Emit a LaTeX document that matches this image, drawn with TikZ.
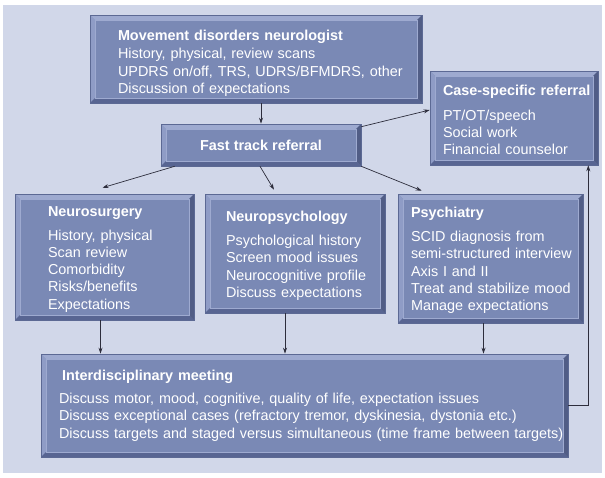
\documentclass[tikz,border=0pt]{standalone}
\usepackage{fontspec}
\setmainfont{Liberation Sans}
\usetikzlibrary{shapes,arrows.meta,positioning,calc}
\definecolor{panelbg}{RGB}{209,215,233}
\definecolor{boxface}{RGB}{122,137,181}
\definecolor{boxedge}{RGB}{92,105,148}
\definecolor{bevtop}{RGB}{158,170,208}
\definecolor{bevleft}{RGB}{143,156,198}
\definecolor{bevdark}{RGB}{88,101,146}
\definecolor{arrowgrey}{RGB}{45,45,60}

\begin{document}
\begin{tikzpicture}[x=1pt, y=-1pt,
    stage/.style={draw=boxedge, line width=0.6pt, fill=boxface, text=white, align=left,
      inner xsep=2pt, font=\fontsize{14.4}{17.3}\selectfont,
      path picture={
        \path (path picture bounding box.north west) coordinate (bnw)
              (path picture bounding box.south east) coordinate (bse);
        \fill[bevtop] (bnw) -- (bnw -| bse) -- ++(-5pt,-5pt) -- ([shift={(5pt,-5pt)}]bnw) -- cycle;
        \fill[bevleft] (bnw) -- ([shift={(5pt,-5pt)}]bnw) -- ([shift={(5pt,5pt)}]bnw |- bse) -- (bnw |- bse) -- cycle;
        \fill[bevdark] (bnw |- bse) -- (bse) -- ++(-5pt,5pt) -- ([shift={(5pt,5pt)}]bnw |- bse) -- cycle;
        \fill[bevdark!92!black] (bse) -- (bnw -| bse) -- ++(-5pt,-5pt) -- ([shift={(-5pt,5pt)}]bse) -- cycle;
        \draw[bevtop, line width=0.5pt] ([shift={(5pt,-5pt)}]bnw) rectangle ([shift={(-5pt,5pt)}]bse);
      }},
    % width, height, left inset of the text
    boxsize/.style n args={3}{minimum width=#1pt, text width=#1pt-4pt, minimum height=#2pt,
      execute at begin node={\leftskip=\dimexpr#3pt-2pt\relax
        \rightskip=-30pt plus 1fil\hyphenpenalty=10000 }},
    arr/.style={draw=arrowgrey, line width=0.7pt, -{Stealth[length=6pt,width=4pt]}}]

  \useasboundingbox (0,0) rectangle (605,477);
  \fill[panelbg] (3,5) rectangle (602,473);

  \node[stage, boxsize={332}{88}{28}] (neuro) at (256,59)
    {\rule{0pt}{18.5pt}\textbf{Movement disorders neurologist}\\[1.5pt]
     History, physical, review scans\\
     UPDRS on/off, TRS, UDRS/BFMDRS, other\\
     Discussion of expectations};
  \node[stage, align=center, minimum width=200pt, minimum height=42pt] (fast) at (261,145)
    {\textbf{Fast track referral}};
  \node[stage, boxsize={168}{94}{13}] (casespec) at (514,118)
    {\rule{0pt}{14.5pt}\textbf{Case-specific referral}\\[7pt]
     PT/OT/speech\\
     Social work\\
     Financial counselor};
  \node[stage, boxsize={179}{126}{33}] (nsurg) at (104.5,257)
    {\rule{0pt}{14.5pt}\textbf{Neurosurgery}\\[6.5pt]
     History, physical\\
     Scan review\\
     Comorbidity\\
     Risks/benefits\\
     Expectations};
  \node[stage, boxsize={180}{119}{21}] (npsych) at (295,253.5)
    {\rule{0pt}{14.5pt}\textbf{Neuropsychology}\\[7pt]
     Psychological history\\
     Screen mood issues\\
     Neurocognitive profile\\
     Discuss expectations};
  \node[stage, boxsize={185}{129}{13}] (psych) at (490.5,258.5)
    {\rule{0pt}{14.5pt}\textbf{Psychiatry}\\[6.5pt]
     SCID diagnosis from\\
     semi-structured interview\\
     Axis I and II\\
     Treat and stabilize mood\\
     Manage expectations};
  \node[stage, boxsize={527}{103}{18}] (meeting) at (304.5,405.5)
    {\hspace*{3pt}\textbf{Interdisciplinary meeting}\\[6pt]
     Discuss motor, mood, cognitive, quality of life, expectation issues\\
     Discuss exceptional cases (refractory tremor, dyskinesia, dystonia etc.)\\
     Discuss targets and staged versus simultaneous (time frame between targets)};

  \draw[arr] (fast.north |- neuro.south) -- (fast.north);
  \draw[arr] ([yshift=-3pt]fast.north east) -- ([yshift=8pt]casespec.west);
  \draw[arr] ([xshift=14pt]fast.south west) -- ([xshift=-2pt,yshift=6pt]nsurg.north);
  \draw[arr] ([xshift=-1pt]fast.south) -- ([xshift=-21pt,yshift=4pt]npsych.north);
  \draw[arr] (fast.south east) -- ([xshift=24pt,yshift=3pt]psych.north west);
  \foreach \n/\dx in {nsurg/-4, npsych/-10, psych/-7}
    \draw[arr] ([xshift=\dx pt]\n.south) -- ([xshift=\dx pt]\n.south |- meeting.north);
  \draw[arr] (meeting.east) -| ([xshift=-10pt]casespec.south east);
\end{tikzpicture}
\end{document}
